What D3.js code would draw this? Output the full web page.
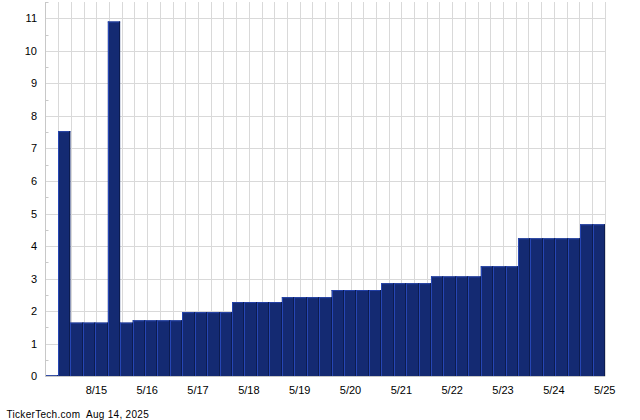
<!DOCTYPE html>
<html>
<head>
<meta charset="utf-8">
<script src="https://cdn.jsdelivr.net/npm/d3@7"></script>
<style>
  html, body { margin: 0; padding: 0; background: #fff; }
  svg { display: block; }
  text { font-family: "Liberation Sans", Arial, Helvetica, sans-serif; fill: #000; }
</style>
</head>
<body>
<svg id="chart" width="640" height="420"></svg>
<script>
// ---- data ----
const values = [
  0.03, 7.53, 1.65, 1.65, 1.65, 10.9, 1.65,
  1.72, 1.72, 1.72, 1.72,
  1.97, 1.97, 1.97, 1.97,
  2.28, 2.28, 2.28, 2.28,
  2.43, 2.43, 2.43, 2.43,
  2.65, 2.65, 2.65, 2.65,
  2.86, 2.86, 2.86, 2.86,
  3.07, 3.07, 3.07, 3.07,
  3.38, 3.38, 3.38,
  4.24, 4.24, 4.24, 4.24, 4.24,
  4.67, 4.67
];
const categories = values.map((d, i) => i);
const xTickLabels = ["8/15", "5/16", "5/17", "5/18", "5/19", "5/20", "5/21", "5/22", "5/23", "5/24", "5/25"];
const xTickPositions = [4, 8, 12, 16, 20, 24, 28, 32, 36, 40, 44];
const yTicks = [0, 1, 2, 3, 4, 5, 6, 7, 8, 9, 10, 11];
const yMinorTicks = [0.5, 1.5, 2.5, 3.5, 4.5, 5.5, 6.5, 7.5, 8.5, 9.5, 10.5];
const footerText = "TickerTech.com  Aug 14, 2025";

// ---- layout ----
const svg = d3.select("#chart");
const plotLeft = 45.5, plotRight = 605, plotTop = 2, plotBottom = 376.3;

const y = d3.scaleLinear().domain([0, 11]).range([plotBottom, plotBottom - 11 * 32.55]);
const x = d3.scaleBand().domain(categories).range([45.6, 605]).padding(0);
const xGrid = d3.scaleLinear().domain([0, 44]).range([45.5, 604.7]);

const gridColor = "#d9d9d9";

// vertical gridlines
svg.append("g").selectAll("line").data(d3.range(1, 45)).join("line")
  .attr("x1", d => Math.round(xGrid(d)) + 0.5).attr("x2", d => Math.round(xGrid(d)) + 0.5)
  .attr("y1", plotTop).attr("y2", plotBottom)
  .attr("stroke", gridColor).attr("stroke-width", 1);

// horizontal gridlines
svg.append("g").selectAll("line").data(yTicks.filter(d => d > 0)).join("line")
  .attr("x1", plotLeft).attr("x2", plotRight)
  .attr("y1", d => Math.round(y(d)) + 0.5).attr("y2", d => Math.round(y(d)) + 0.5)
  .attr("stroke", gridColor).attr("stroke-width", 1);

// bars
const bars = svg.append("g");
bars.selectAll("rect").data(values).join("rect")
  .attr("x", (d, i) => x(i))
  .attr("y", d => y(d))
  .attr("width", x.bandwidth())
  .attr("height", d => Math.max(1, plotBottom - y(d)))
  .attr("fill", "#142a72");
// left highlight
bars.selectAll("line.hl").data(values).join("line").attr("class", "hl")
  .attr("x1", (d, i) => Math.round(x(i)) + 0.5).attr("x2", (d, i) => Math.round(x(i)) + 0.5)
  .attr("y1", d => y(d)).attr("y2", plotBottom)
  .attr("stroke", "#2646b4").attr("stroke-width", 1);
// top highlight
bars.selectAll("line.th").data(values).join("line").attr("class", "th")
  .attr("x1", (d, i) => x(i)).attr("x2", (d, i) => x(i) + x.bandwidth())
  .attr("y1", d => y(d) + 0.5).attr("y2", d => y(d) + 0.5)
  .attr("stroke", "#2442a8").attr("stroke-width", 1);
// right shadow
bars.selectAll("line.sh").data(values).join("line").attr("class", "sh")
  .attr("x1", (d, i) => Math.round(x(i) + x.bandwidth()) - 0.5).attr("x2", (d, i) => Math.round(x(i) + x.bandwidth()) - 0.5)
  .attr("y1", d => y(d)).attr("y2", plotBottom)
  .attr("stroke", "#0c1c50").attr("stroke-width", 1);

// y axis line
svg.append("line")
  .attr("x1", plotLeft).attr("x2", plotLeft)
  .attr("y1", plotTop).attr("y2", plotBottom + 0.5)
  .attr("stroke", "#c8c8c8");
// top cap tick
svg.append("line")
  .attr("x1", plotLeft).attr("x2", plotLeft + 3)
  .attr("y1", plotTop + 0.5).attr("y2", plotTop + 0.5)
  .attr("stroke", "#c8c8c8");
// bottom axis line
svg.append("line")
  .attr("x1", plotLeft).attr("x2", plotRight)
  .attr("y1", Math.round(plotBottom) + 0.5).attr("y2", Math.round(plotBottom) + 0.5)
  .attr("stroke", "#c8c8c8");

// y minor ticks (inside the plot)
svg.append("g").selectAll("line").data(yMinorTicks).join("line")
  .attr("x1", plotLeft).attr("x2", plotLeft + 3)
  .attr("y1", d => Math.round(y(d)) + 0.5).attr("y2", d => Math.round(y(d)) + 0.5)
  .attr("stroke", "#c8c8c8");

// y labels
svg.append("g").selectAll("text").data(yTicks).join("text")
  .attr("x", 37).attr("y", d => y(d) + 4)
  .attr("text-anchor", "end")
  .attr("font-size", "11px")
  .text(d => d);

// x labels
svg.append("g").selectAll("text").data(xTickPositions).join("text")
  .attr("x", d => xGrid(d)).attr("y", 394)
  .attr("text-anchor", "middle")
  .attr("font-size", "11px")
  .text((d, i) => xTickLabels[i]);

// footer
svg.append("text")
  .attr("x", 6.5).attr("y", 418)
  .attr("font-size", "10px")
  .attr("letter-spacing", "0.3px")
  .attr("xml:space", "preserve")
  .style("white-space", "pre")
  .text(footerText);
</script>
</body>
</html>
